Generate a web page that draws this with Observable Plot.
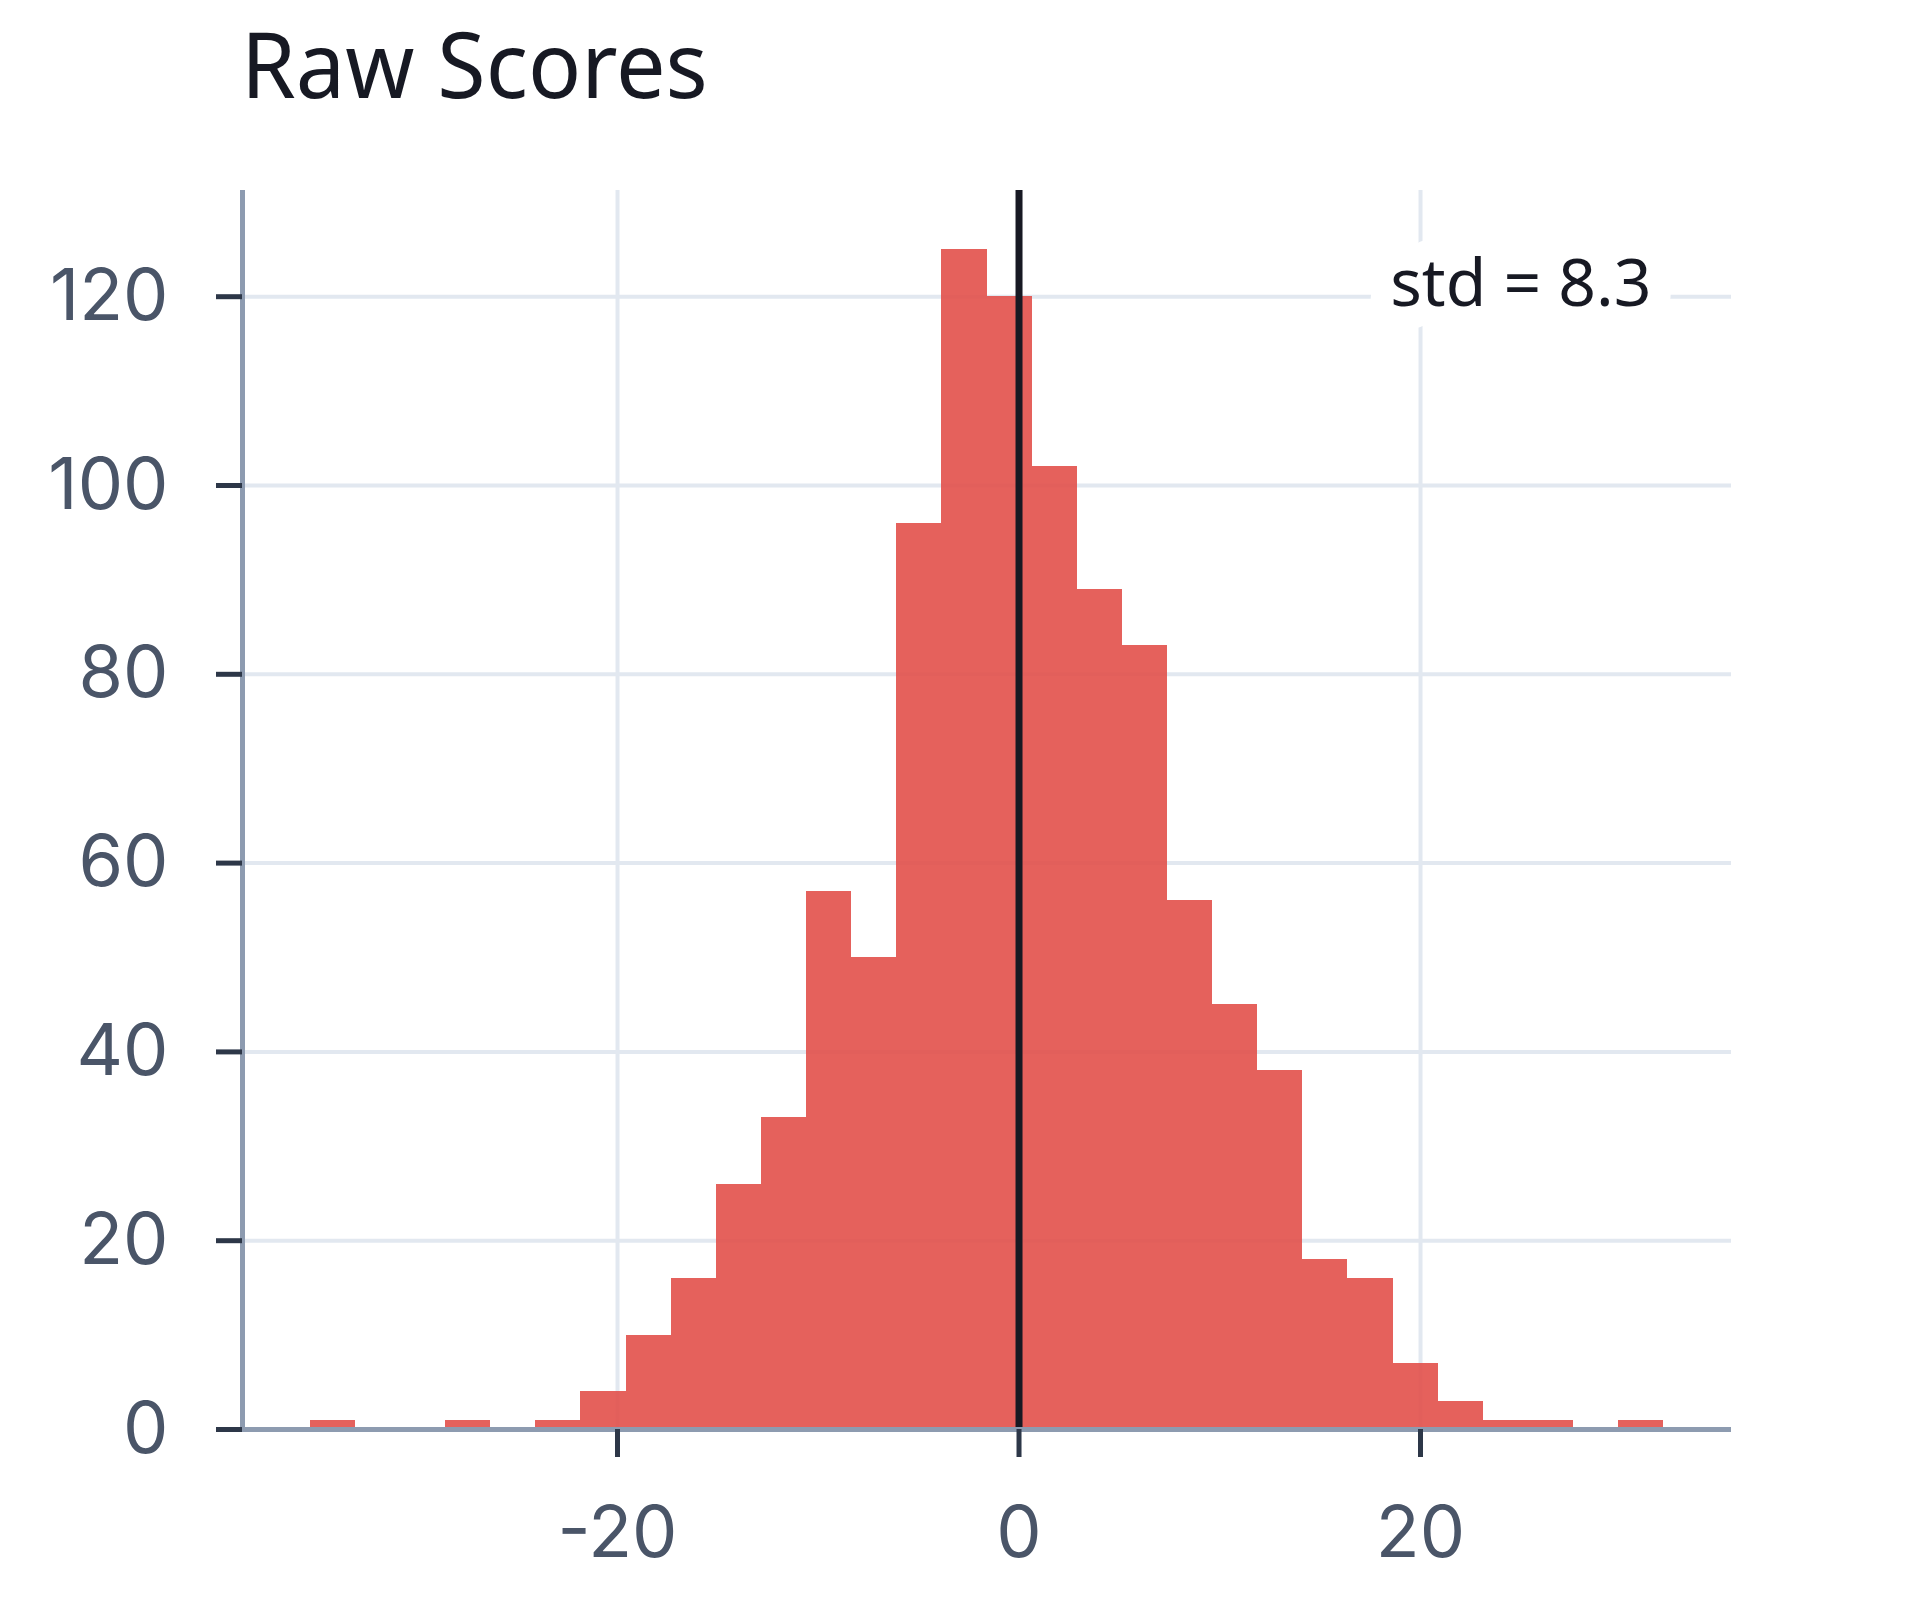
<!DOCTYPE html>
<html>
<head>
<meta charset="utf-8">
<script src="https://cdn.jsdelivr.net/npm/d3@7"></script>
<script src="https://cdn.jsdelivr.net/npm/@observablehq/plot@0.6"></script>
<style>
  body { margin: 0; background: #fff; width: 1920px; height: 1600px; position: relative; overflow: hidden; font-family: "Noto Sans", sans-serif; }
  #title { position: absolute; left: 241px; top: 18px; font-family: "Noto Sans", sans-serif; font-size: 91px; line-height: 90px; color: #171923; font-weight: 400; white-space: nowrap; transform: scaleX(0.968); transform-origin: 0 0; }
  #chart { position: absolute; left: 0; top: 130px; }
  #chart svg g[aria-label="y-axis tick label"] text, #chart svg g[aria-label="x-axis tick label"] text { font-family: Inter, "Noto Sans", sans-serif; font-feature-settings: "pnum" 1, "tnum" 0; font-variant-numeric: proportional-nums; }
</style>
</head>
<body>
<div id="title"></div>
<div id="chart"></div>
<script>
// ---- data ----
const titleText = "Raw Scores";
const binLow = -35.31;   // left edge of first histogram bin
const binHigh = 32.12;   // right edge of last histogram bin
const counts = [1, 0, 0, 1, 0, 1, 4, 10, 16, 26, 33, 57, 50, 96, 125, 120, 102, 89, 83, 56, 45, 38, 18, 16, 7, 3, 1, 1, 0, 1];
const meanValue = 0;
const stdLabel = "std = 8.3";
const xTicks = [-20, 0, 20];
const yTicks = [0, 20, 40, 60, 80, 100, 120];

// ---- build table (equal-width bins between binLow and binHigh) ----
const nBins = counts.length;
const binWidth = (binHigh - binLow) / nBins;
const bins = counts.map((c, i) => ({ x1: binLow + i * binWidth, x2: binLow + (i + 1) * binWidth, count: c }))
  .filter(d => d.count > 0);

const range = binHigh - binLow;
const xDomain = [binLow - 0.05 * range, binHigh + 0.05 * range];
const yDomain = [0, d3.max(counts) * 1.05];

document.getElementById("title").textContent = titleText;

const axisLineColor = "#8d9bb0";
const gridColor = "#e2e8f0";
const tickColor = "#2d3748";
const labelColor = "#4a5568";

const chart = Plot.plot({
  width: 1920,
  height: 1470,
  marginTop: 60,
  marginBottom: 171,
  marginLeft: 242,
  marginRight: 189,
  style: { fontFamily: "Noto Sans", background: "white", overflow: "visible" },
  x: { domain: xDomain },
  y: { domain: yDomain },
  marks: [
    Plot.gridY(yTicks, { stroke: gridColor, strokeOpacity: 1, strokeWidth: 4 }),
    Plot.gridX(xTicks, { stroke: gridColor, strokeOpacity: 1, strokeWidth: 4 }),
    Plot.rectY(bins, { x1: "x1", x2: "x2", y: "count", fill: "#e2504a", fillOpacity: 0.9, shapeRendering: "crispEdges" }),
    Plot.ruleX([meanValue], { stroke: "#171923", strokeWidth: 7 }),
    Plot.ruleY([yDomain[0]], { stroke: axisLineColor, strokeWidth: 5 }),
    Plot.ruleX([xDomain[0]], { stroke: axisLineColor, strokeWidth: 5 }),
    Plot.axisY(yTicks, { label: null, tickSize: 26, tickPadding: 48, fontSize: 72, fill: labelColor, stroke: tickColor, strokeWidth: 5 }),
    Plot.axisX(xTicks, { label: null, tickSize: 28, tickPadding: 48, fontSize: 72, fill: labelColor, stroke: tickColor, strokeWidth: 5, tickFormat: d => String(d) }),
    Plot.text([stdLabel], {
      text: d => d, frameAnchor: "top-right", textAnchor: "end", lineAnchor: "top",
      dx: -80, dy: 69, fontSize: 66, fill: "#171923",
      stroke: "white", strokeWidth: 46, strokeLinejoin: "round", paintOrder: "stroke"
    })
  ]
});
document.getElementById("chart").appendChild(chart);
</script>
</body>
</html>
